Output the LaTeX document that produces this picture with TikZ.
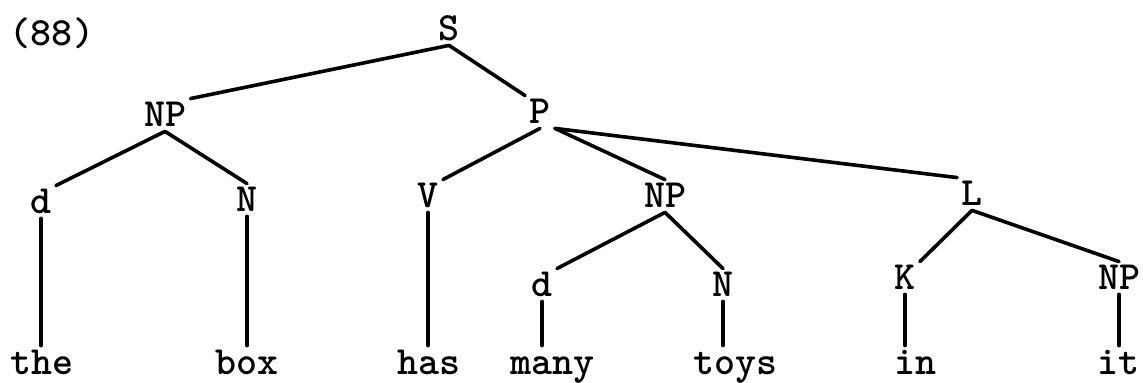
\documentclass[tikz,border=0pt]{standalone}
\usepackage{tikz}
\begin{document}
\begin{tikzpicture}[x=0.5pt, y=-0.5pt,
  cat/.style={font=\ttfamily\bfseries\fontsize{20}{24}\selectfont, inner sep=2pt, text height=12pt, text depth=0pt},
  word/.style={font=\ttfamily\bfseries\fontsize{20}{24}\selectfont, inner sep=2pt, anchor=base, text height=12.5pt, text depth=4pt},
  br/.style={line width=1.8pt, line cap=round}]
\useasboundingbox (0,0) rectangle (1143,383);
\node[cat] (num) at (52,34) {(88)};
% categories
\node[cat] (s) at (449,29) {S};
\node[cat] (np1) at (165,115) {NP};
\node[cat] (p) at (540,112) {P};
\node[cat] (d1) at (41,202) {d};
\node[cat] (n1) at (247,200) {N};
\node[cat] (v) at (428,196) {V};
\node[cat] (np2) at (665,196) {NP};
\node[cat] (l) at (972,194) {L};
\node[cat] (d2) at (542,285) {d};
\node[cat] (n2) at (723,285) {N};
\node[cat] (k) at (905,278) {K};
\node[cat] (np3) at (1119,278) {NP};
% words
\node[word] (the) at (42,375) {the};
\node[word] (box) at (247,375) {box};
\node[word] (has) at (429,375) {has};
\node[word] (many) at (552,375) {many};
\node[word] (toys) at (735,375) {toys};
\node[word] (in) at (915,375) {in};
\node[word] (it) at (1118,375) {it};
% branches
\draw[br] (s.south) -- (np1.north east);
\draw[br] (s.south) -- (p.north west);
\draw[br] (np1.south) -- (d1.north east);
\draw[br] (np1.south) -- (n1.north);
\draw[br] (p.south) -- (v.north east);
\draw[br] (p.south east) -- (np2.north);
\draw[br] (p.south east) -- (l.north west);
\draw[br] (np2.south) -- (d2.north east);
\draw[br] (np2.south) -- (n2.north);
\draw[br] (l.south) -- (k.north east);
\draw[br] (l.south) -- (np3.north);
\foreach \a/\b in {d1/the,n1/box,v/has,d2/many,n2/toys,k/in,np3/it}
  \draw[br] (\a.south) -- (\a.south |- \b.north);
\end{tikzpicture}
\end{document}
